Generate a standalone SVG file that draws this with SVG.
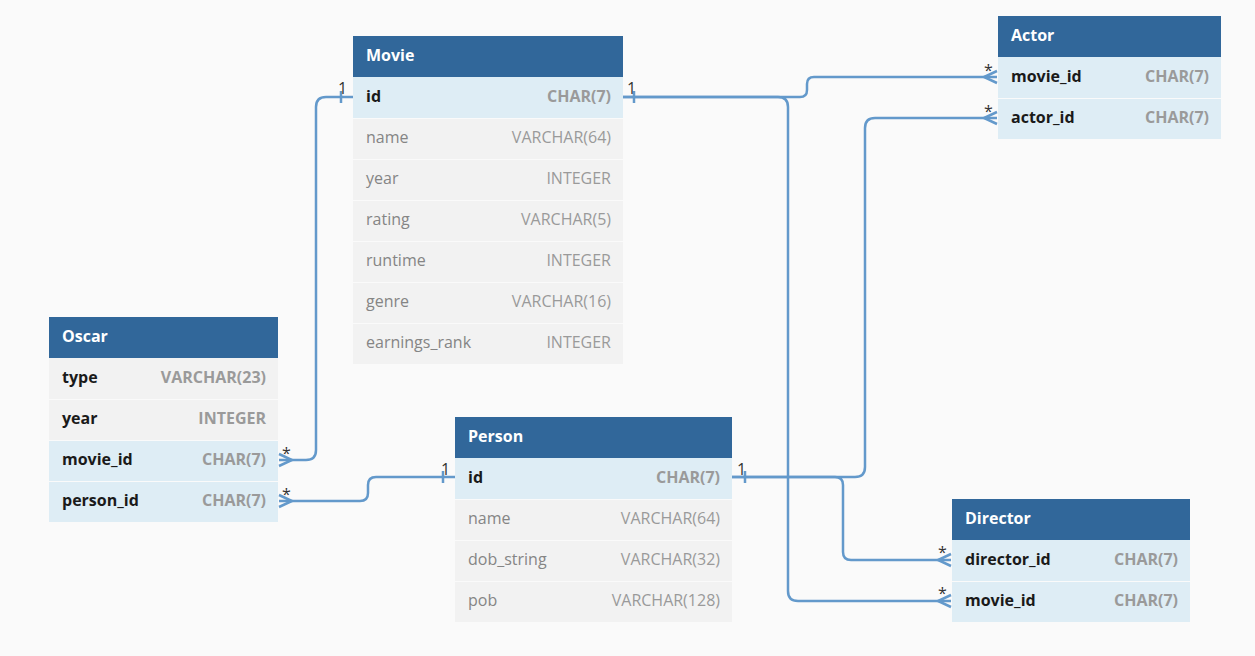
<svg xmlns="http://www.w3.org/2000/svg" width="1255" height="656" viewBox="0 0 1255 656">
<style>
.hdr{fill:#31679a}
.hdrt{fill:#ffffff;font-family:"Open Sans","Noto Sans",sans-serif;font-weight:bold;font-size:16px}
.rk{fill:#deedf5}
.rn{fill:#f2f2f2}
.sep{stroke:#fafafa;stroke-width:1}
.kn{fill:#1a1a1a;font-family:"Open Sans","Noto Sans",sans-serif;font-weight:bold;font-size:16px}
.kt{fill:#9a9a9a;font-family:"Open Sans","Noto Sans",sans-serif;font-weight:bold;font-size:16px;text-anchor:end}
.fn{fill:#858585;font-family:"Open Sans","Noto Sans",sans-serif;font-size:16px}
.ft{fill:#9a9a9a;font-family:"Open Sans","Noto Sans",sans-serif;font-size:16px;text-anchor:end}
.ln{fill:none;stroke:#6399cb;stroke-width:2.5}
.lb{fill:#333333;font-family:"Open Sans","Noto Sans",sans-serif;font-size:16px}
</style>
<rect width="1255" height="656" fill="#fafafa"/>

<g id="connectors">
  <path class="ln" d="M353,97 H326 Q316,97 316,107 V450 Q316,460 306,460 H279"/>
  <path class="ln" d="M341,91 V103"/>
  <path class="ln" d="M279,454 L292,460 L279,466"/>
  <text class="lb" x="338" y="94">1</text>
  <text class="lb" x="282" y="459">*</text>

  <path class="ln" d="M455,477 H376 Q368,477 368,485 V493 Q368,501 360,501 H279"/>
  <path class="ln" d="M443,471 V483"/>
  <path class="ln" d="M279,495 L292,501 L279,507"/>
  <text class="lb" x="441" y="475">1</text>
  <text class="lb" x="282" y="500">*</text>

  <path class="ln" d="M623,97 H800 Q807,97 807,90 V84 Q807,77 814,77 H997"/>
  <path class="ln" d="M623,97 H778 Q788,97 788,107 V591 Q788,601 798,601 H951"/>
  <path class="ln" d="M634,91 V103"/>
  <path class="ln" d="M997,71 L984,77 L997,83"/>
  <path class="ln" d="M951,595 L938,601 L951,607"/>
  <text class="lb" x="627" y="94">1</text>
  <text class="lb" x="984" y="76">*</text>
  <text class="lb" x="938" y="599">*</text>

  <path class="ln" d="M732,477 H855 Q865,477 865,467 V128 Q865,118 875,118 H997"/>
  <path class="ln" d="M732,477 H835 Q843,477 843,485 V552 Q843,560 851,560 H951"/>
  <path class="ln" d="M745,471 V483"/>
  <path class="ln" d="M997,112 L984,118 L997,124"/>
  <path class="ln" d="M951,554 L938,560 L951,566"/>
  <text class="lb" x="737" y="475">1</text>
  <text class="lb" x="984" y="117">*</text>
  <text class="lb" x="938" y="558">*</text>
</g>

<g id="movie">
  <rect class="hdr" x="353" y="36" width="270" height="41"/>
  <text class="hdrt" x="366" y="61">Movie</text>
  <rect class="rk" x="353" y="77" width="270" height="41"/>
  <rect class="rn" x="353" y="118" width="270" height="246"/>
  <path class="sep" d="M353,118.5 H623 M353,159.5 H623 M353,200.5 H623 M353,241.5 H623 M353,282.5 H623 M353,323.5 H623"/>
  <text class="kn" x="366" y="102">id</text><text class="kt" x="611" y="102">CHAR(7)</text>
  <text class="fn" x="366" y="143">name</text><text class="ft" x="611" y="143">VARCHAR(64)</text>
  <text class="fn" x="366" y="184">year</text><text class="ft" x="611" y="184">INTEGER</text>
  <text class="fn" x="366" y="225">rating</text><text class="ft" x="611" y="225">VARCHAR(5)</text>
  <text class="fn" x="366" y="266">runtime</text><text class="ft" x="611" y="266">INTEGER</text>
  <text class="fn" x="366" y="307">genre</text><text class="ft" x="611" y="307">VARCHAR(16)</text>
  <text class="fn" x="366" y="348">earnings_rank</text><text class="ft" x="611" y="348">INTEGER</text>
</g>

<g id="actor">
  <rect class="hdr" x="998" y="16" width="223" height="41"/>
  <text class="hdrt" x="1011" y="41">Actor</text>
  <rect class="rk" x="998" y="57" width="223" height="82"/>
  <path class="sep" d="M998,98.5 H1221"/>
  <text class="kn" x="1011" y="82">movie_id</text><text class="kt" x="1209" y="82">CHAR(7)</text>
  <text class="kn" x="1011" y="123">actor_id</text><text class="kt" x="1209" y="123">CHAR(7)</text>
</g>

<g id="oscar">
  <rect class="hdr" x="49" y="317" width="229" height="41"/>
  <text class="hdrt" x="62" y="342">Oscar</text>
  <rect class="rn" x="49" y="358" width="229" height="82"/>
  <rect class="rk" x="49" y="440" width="229" height="82"/>
  <path class="sep" d="M49,399.5 H278 M49,440.5 H278 M49,481.5 H278"/>
  <text class="kn" x="62" y="383">type</text><text class="kt" x="266" y="383">VARCHAR(23)</text>
  <text class="kn" x="62" y="424">year</text><text class="kt" x="266" y="424">INTEGER</text>
  <text class="kn" x="62" y="465">movie_id</text><text class="kt" x="266" y="465">CHAR(7)</text>
  <text class="kn" x="62" y="506">person_id</text><text class="kt" x="266" y="506">CHAR(7)</text>
</g>

<g id="person">
  <rect class="hdr" x="455" y="417" width="277" height="41"/>
  <text class="hdrt" x="468" y="442">Person</text>
  <rect class="rk" x="455" y="458" width="277" height="41"/>
  <rect class="rn" x="455" y="499" width="277" height="123"/>
  <path class="sep" d="M455,499.5 H732 M455,540.5 H732 M455,581.5 H732"/>
  <text class="kn" x="468" y="483">id</text><text class="kt" x="720" y="483">CHAR(7)</text>
  <text class="fn" x="468" y="524">name</text><text class="ft" x="720" y="524">VARCHAR(64)</text>
  <text class="fn" x="468" y="565">dob_string</text><text class="ft" x="720" y="565">VARCHAR(32)</text>
  <text class="fn" x="468" y="606">pob</text><text class="ft" x="720" y="606">VARCHAR(128)</text>
</g>

<g id="director">
  <rect class="hdr" x="952" y="499" width="238" height="41"/>
  <text class="hdrt" x="965" y="524">Director</text>
  <rect class="rk" x="952" y="540" width="238" height="82"/>
  <path class="sep" d="M952,581.5 H1190"/>
  <text class="kn" x="965" y="565">director_id</text><text class="kt" x="1178" y="565">CHAR(7)</text>
  <text class="kn" x="965" y="606">movie_id</text><text class="kt" x="1178" y="606">CHAR(7)</text>
</g>
</svg>
